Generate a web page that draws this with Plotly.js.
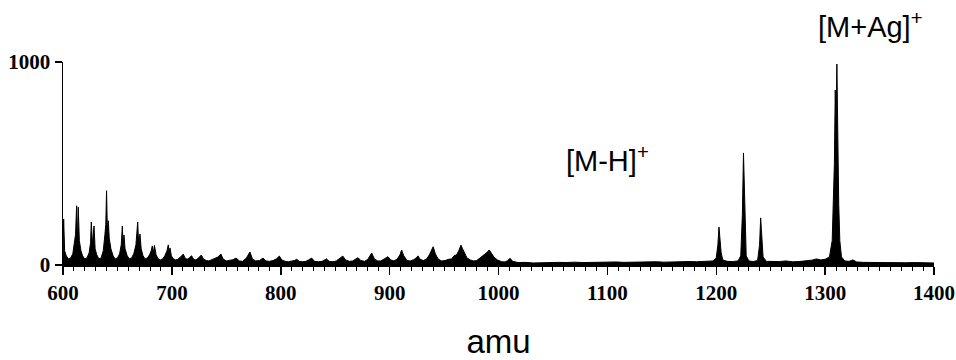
<!DOCTYPE html>
<html>
<head>
<meta charset="utf-8">
<script src="https://cdn.plot.ly/plotly-3.0.1.min.js"></script>
<style>html,body{margin:0;padding:0;background:#fff;}#chart{width:956px;height:360px;}</style>
</head>
<body>
<div id="chart"></div>
<script>
// m/z values (amu)
const mz = [
600,600.6,601.5,603,605,607,609,610.5,611.5,612.5,613.2,614,615,616.5,618,620,622,624,625.3,626,627,628.5,629.5,631,633,635,637,638.5,639.3,640,640.8,641.6,642.5,644,646,648,650,652,653.5,654.5,655.2,656,657,659,661,663,665,667,668.6,669.5,670.7,671.8,673.5,675.5,677.5,679.5,681,682,683,684,685.5,687.5,689.5,691.5,693.5,695.5,696.7,697.5,698.3,699.5,701.5,703.5,705.5,708,710.5,712,714,716,718,720,722,724.5,727,729,731.5,734,737,740,742.5,745,747,750,753,756,759,762,765,768.5,771.7,774,777,780.5,783.7,786.5,789.5,793,796,798.7,801,804,807,810,812.5,814.6,817,820,823,825.5,828.4,831,834.5,838,840,842,844.5,848,851,854,857,859.5,863,866,868.5,871,873.5,877,880,883.5,886,889,892,895.5,898.5,901,904,907,909.5,911,913,916,919,922,924.5,926,928,931,934,936.5,938.5,940,942,944.5,947.5,951,954,957,959,961.5,963.5,965.5,967,969,971,974,977,980,983,986,989,991.5,993.5,996,999,1003,1006,1008.5,1010.6,1013,1018,1025,1032,1040,1048,1055,1062,1070,1078,1085,1092,1100,1108,1115,1122,1130,1138,1145,1152,1160,1168,1175,1182,1188,1193,1197,1200,1201.5,1202.5,1203.5,1204.5,1206,1210,1215,1220,1222.5,1224,1225,1225.8,1226.5,1227.5,1230,1234,1238,1239.8,1240.8,1241.8,1243,1246,1252,1258,1264,1270,1276,1282,1288,1292,1296,1300,1304,1306.5,1308.5,1309.3,1310,1310.8,1311.5,1312.5,1313.5,1315,1318,1322,1325.5,1329,1335,1342,1350,1358,1366,1374,1382,1390,1398,1400
];
// relative intensity
const intensity = [
15,227,70,45,30,35,55,110,150,292,120,285,120,70,45,30,35,60,110,212,100,192,80,50,30,35,70,150,200,366,160,218,130,80,45,30,35,55,100,192,90,148,80,45,30,35,55,100,212,100,153,80,45,30,35,50,70,94,60,96,50,30,25,30,45,70,99,60,84,45,30,25,28,40,54,35,28,35,46,28,25,35,49,30,22,20,28,35,40,54,30,20,22,26,34,20,18,35,64,30,20,22,34,20,18,22,30,44,25,18,16,18,22,28,18,16,18,25,34,18,16,18,22,30,18,16,20,30,44,25,18,20,26,36,22,18,28,59,30,20,20,30,41,25,20,30,50,74,45,22,20,26,35,45,28,22,30,50,70,90,55,30,20,22,28,30,45,50,70,98,80,55,35,25,20,22,35,45,60,74,55,38,25,16,15,22,33,18,12,13,10,12,11,13,12,14,12,13,14,13,15,13,14,15,13,16,14,16,15,17,16,18,17,20,35,100,187,120,60,25,18,17,20,45,250,552,360,150,45,20,17,22,100,232,130,40,18,16,17,20,16,17,20,24,30,25,28,40,120,500,862,700,990,620,300,120,40,20,18,25,15,13,12,13,11,12,11,12,10,11,10
];
const xTickVals = [600,700,800,900,1000,1100,1200,1300,1400];
const yTickVals = [0,1000];
const peakLabels = ["[M+Ag]<sup>+</sup>", "[M-H]<sup>+</sup>"];
const peakLabelX = [1342, 1100];

const trace = {
  x: mz, y: intensity, type: 'scatter', mode: 'lines',
  line: {color: '#000', width: 1},
  fill: 'tozeroy', fillcolor: '#000',
  hoverinfo: 'skip', showlegend: false
};

const serif = {family: 'Times New Roman, Liberation Serif, serif', size: 21, color: '#000', weight: 'bold'};
const sans = {family: 'Liberation Sans, Arial, sans-serif', color: '#000'};

const layout = {
  width: 956, height: 360,
  margin: {l: 63, r: 22, t: 62, b: 95},
  paper_bgcolor: '#fff', plot_bgcolor: '#fff',
  showlegend: false,
  xaxis: {
    range: [600, 1400], tickvals: xTickVals, ticktext: xTickVals.map(String),
    ticks: 'outside', ticklen: 8, tickwidth: 1.5, tickcolor: '#000',
    showline: true, linecolor: '#000', linewidth: 1.5,
    showgrid: false, zeroline: false, tickfont: serif,
    minor: {dtick: 10, tick0: 600, ticks: 'outside', ticklen: 4, tickwidth: 1, tickcolor: '#000', showgrid: false},
    title: {text: 'amu', font: Object.assign({size: 33}, sans), standoff: 26}
  },
  yaxis: {
    range: [0, 1000], tickvals: yTickVals, ticktext: yTickVals.map(String),
    ticks: 'outside', ticklen: 7, tickwidth: 1.5, tickcolor: '#000',
    showline: true, linecolor: '#000', linewidth: 1.5,
    showgrid: false, zeroline: false, tickfont: serif
  },
  annotations: [
    {text: peakLabels[0], x: peakLabelX[0], xref: 'x', y: 1.18, yref: 'paper', showarrow: false,
     font: Object.assign({size: 29}, sans), xanchor: 'center', yanchor: 'middle'},
    {text: peakLabels[1], x: peakLabelX[1], xref: 'x', y: 0.52, yref: 'paper', showarrow: false,
     font: Object.assign({size: 29}, sans), xanchor: 'center', yanchor: 'middle'}
  ]
};

Plotly.newPlot('chart', [trace], layout, {staticPlot: true, displayModeBar: false});
</script>
</body>
</html>
